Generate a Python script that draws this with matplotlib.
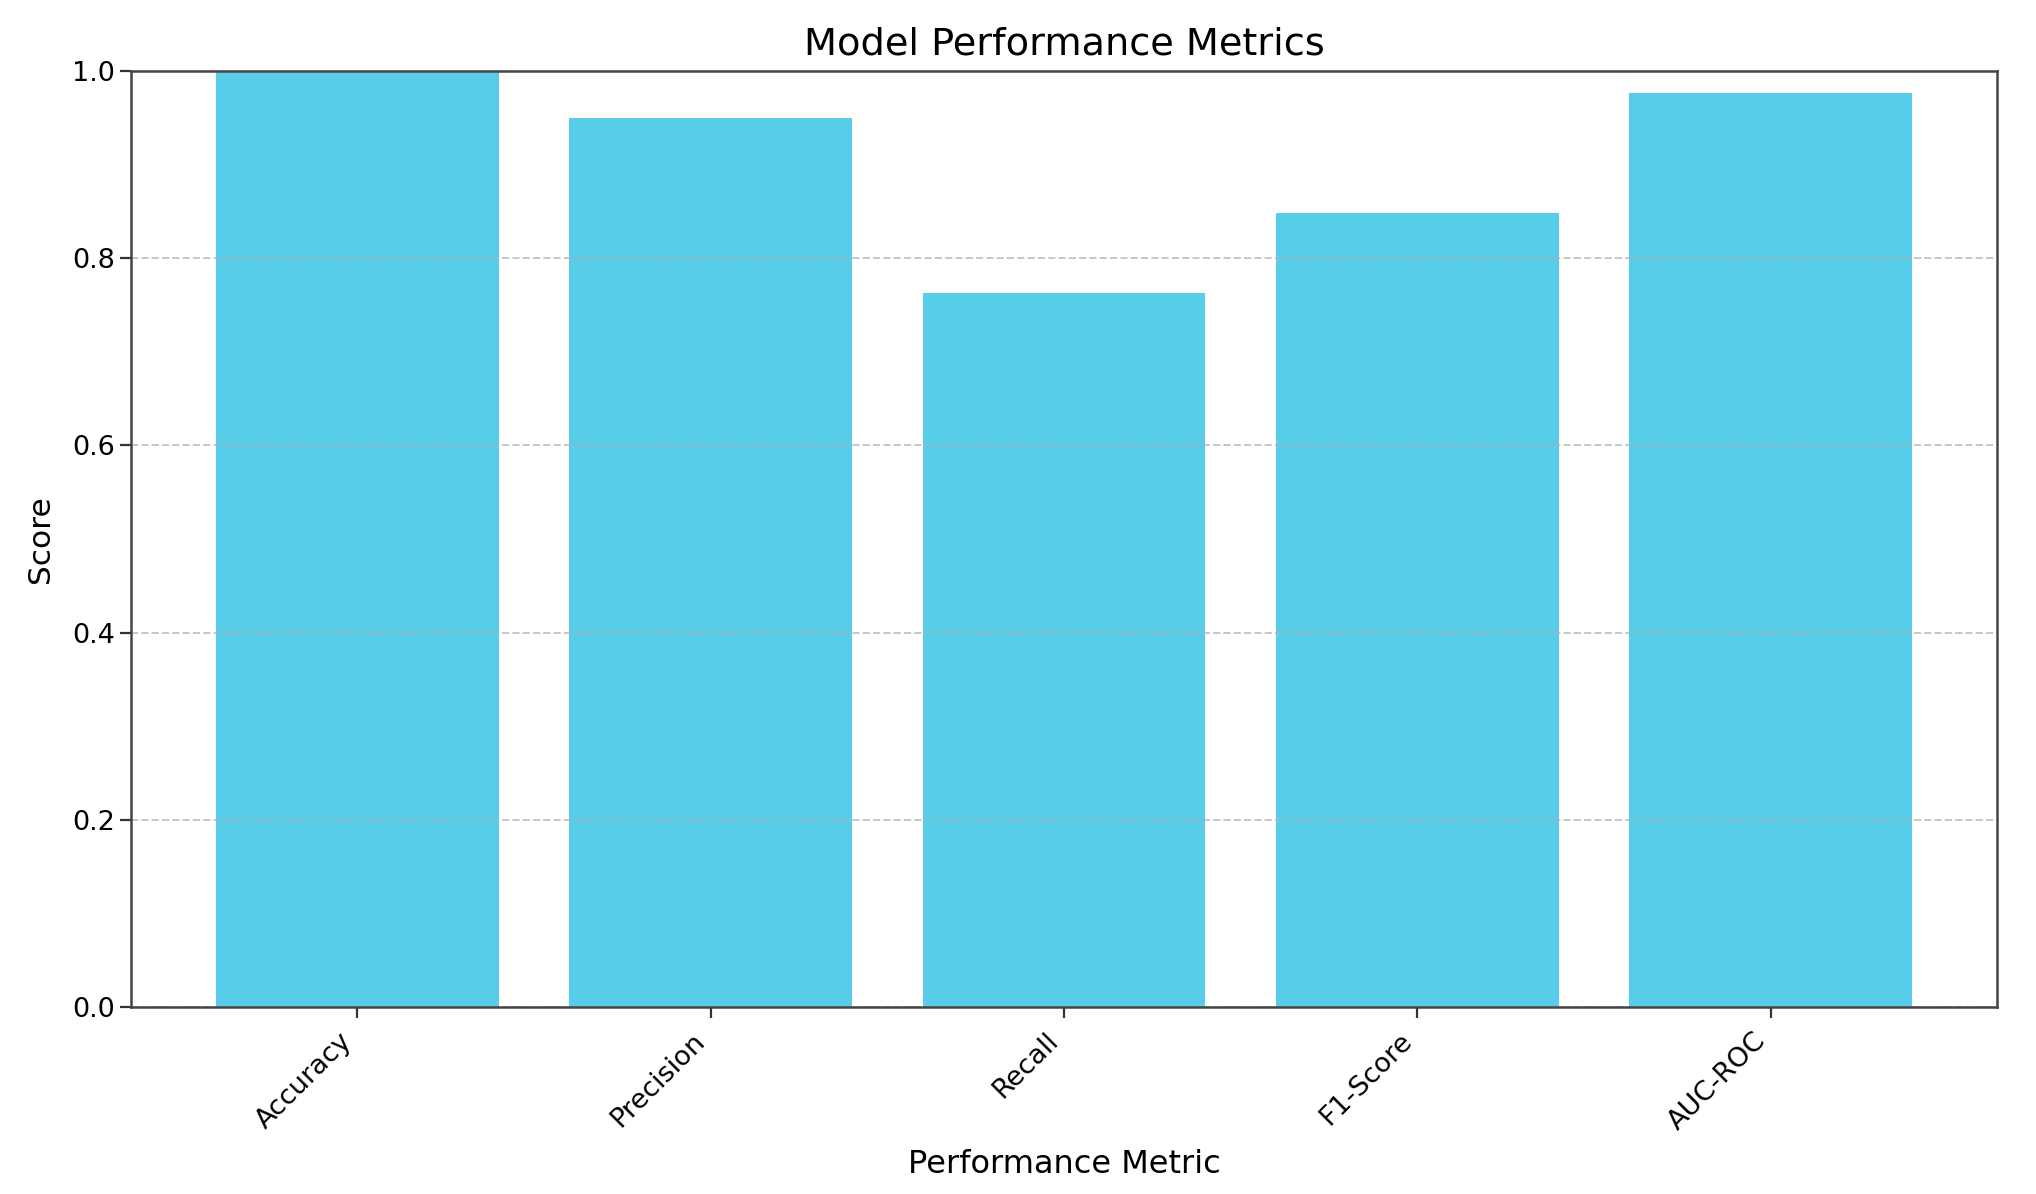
import matplotlib
matplotlib.use("Agg")
import matplotlib.pyplot as plt

metrics = ["Accuracy", "Precision", "Recall", "F1-Score", "AUC-ROC"]
scores = [1.0, 0.95, 0.763, 0.848, 0.976]

fig = plt.figure(figsize=(20.36, 11.94), dpi=100)
ax = fig.add_axes([131/2036, 1 - 1007/1194, (1997-131)/2036, (1007-71)/1194])

ax.bar(metrics, scores, color="#57CDEA", width=0.8)
ax.set_ylim(0, 1.0)
ax.grid(axis="y", linestyle="--", alpha=0.7, linewidth=1.4)

ax.set_title("Model Performance Metrics", fontsize=27.5, pad=12)
ax.set_xlabel("Performance Metric", fontsize=23, labelpad=10)
ax.set_ylabel("Score", fontsize=22.5, labelpad=12)

ax.tick_params(axis="both", labelsize=19.5, length=8, width=1.6, color="#333333")
ax.tick_params(axis="x", pad=7)
plt.setp(ax.get_xticklabels(), rotation=45, ha="right")
for s in ax.spines.values():
    s.set_linewidth(1.8)
    s.set_color("#444444")

fig.savefig("out.png", dpi=100)
